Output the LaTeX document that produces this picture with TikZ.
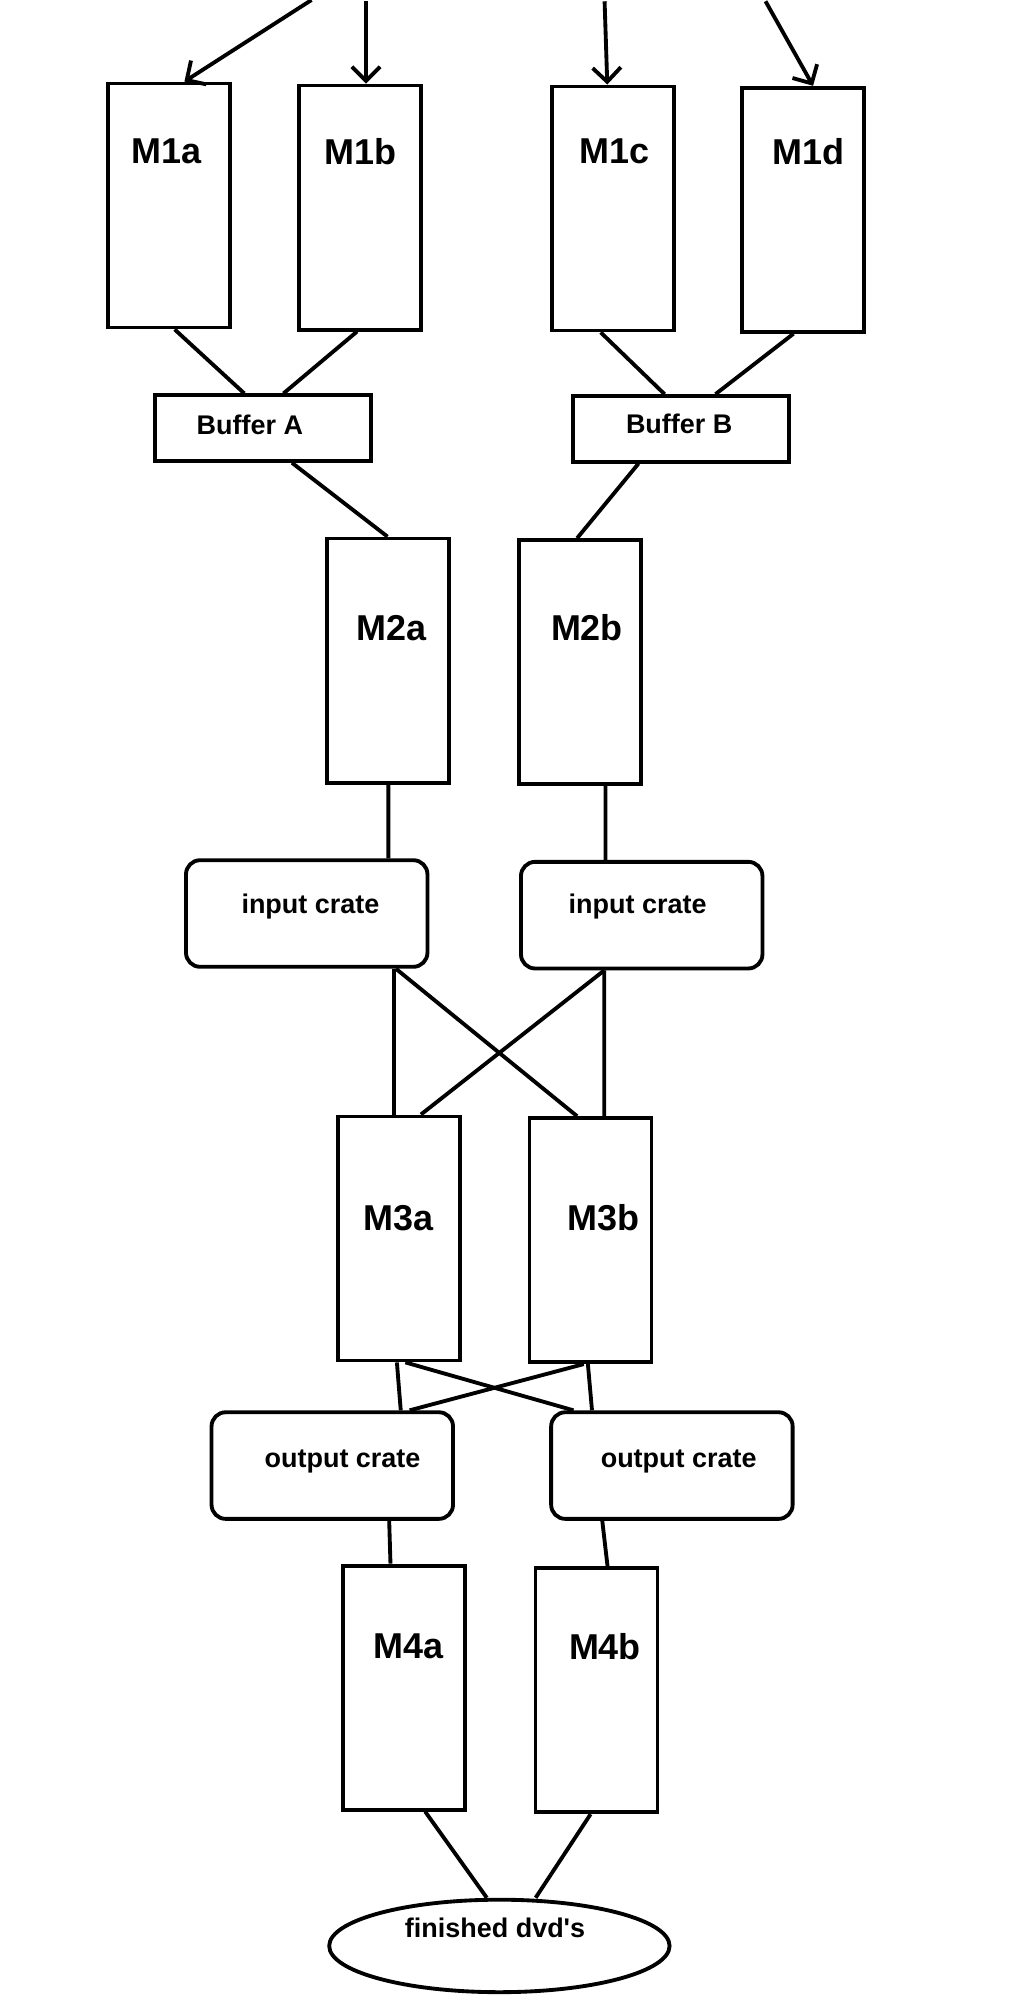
\documentclass[tikz,border=0pt]{standalone}
\usepackage{fontspec}
\setmainfont{Liberation Sans}
\usetikzlibrary{arrows.meta, shapes.geometric}

\begin{document}
\begin{tikzpicture}[x=1pt, y=-1pt, line width=3pt,
      >={Straight Barb[length=11pt, width=22pt]},
      machine/.style={draw, minimum width=95pt, minimum height=190pt, inner sep=0pt},
      buffer/.style={draw, minimum width=168pt, minimum height=51pt, inner sep=0pt},
      crate/.style={draw, rounded corners=11pt, minimum width=188pt, minimum height=83pt, inner sep=0pt},
      stock/.style={draw, ellipse, minimum width=265pt, minimum height=72pt, inner sep=0pt},
      mtext/.style={font=\fontsize{28}{28}\selectfont\bfseries, inner sep=0pt},
      ctext/.style={font=\fontsize{21}{21}\selectfont\bfseries, inner sep=0pt},
      arr/.style={->}]
    \useasboundingbox (0,0) rectangle (795,1568);
    % first stage
    \node[machine, label={[mtext, xshift=-1.8pt, yshift=42pt]center:M1a}] (m1a) at (131.7,160) {};
    \node[machine, label={[mtext, xshift=0.5pt, yshift=43.8pt]center:M1b}] (m1b) at (280,161.6) {};
    \node[machine, label={[mtext, xshift=1.6pt, yshift=44.3pt]center:M1c}] (m1c) at (477,162.3) {};
    \node[machine, label={[mtext, xshift=4.8pt, yshift=45.5pt]center:M1d}] (m1d) at (625,163.3) {};
    \coordinate (in1) at (242.5,0);
    \coordinate (in2) at (285,1);
    \coordinate (in3) at (470.7,1);
    \coordinate (in4) at (596,1);
    \draw[arr] (in1) -- ([xshift=11.9pt]m1a.north);
    \draw[arr] (in2) -- ([xshift=5pt]m1b.north);
    \draw[arr] (in3) -- ([xshift=-4.2pt]m1c.north);
    \draw[arr] (in4) -- ([xshift=8pt]m1d.north);
    % buffers
    \node[buffer, label={[ctext, xshift=-10.2pt, yshift=2.3pt]center:Buffer A}] (bufa) at (204.7,333.3) {};
    \node[buffer, label={[ctext, xshift=-1.6pt, yshift=4.2pt]center:Buffer B}] (bufb) at (530.4,333.9) {};
    \draw ([xshift=4.3pt]m1a.south) -- ([xshift=-14.5pt]bufa.north);
    \draw ([xshift=-2pt]m1b.south) -- ([xshift=16pt]bufa.north);
    \draw ([xshift=-9.3pt]m1c.south) -- ([xshift=-13pt]bufb.north);
    \draw ([xshift=-7.2pt]m1d.south) -- ([xshift=26.6pt]bufb.north);
    % second stage
    \node[machine, label={[mtext, xshift=2.5pt, yshift=25.3pt]center:M2a}] (m2a) at (302,514.3) {};
    \node[machine, label={[mtext, xshift=5.5pt, yshift=26.7pt]center:M2b}] (m2b) at (451.5,515.5) {};
    \draw ([xshift=22.6pt]bufa.south) -- ([xshift=-0.3pt]m2a.north);
    \draw ([xshift=-33.3pt]bufb.south) -- ([xshift=-2.2pt]m2b.north);
    \node[crate, label={[ctext, xshift=2.9pt, yshift=5.6pt]center:input crate}] (ic1) at (238.8,711.2) {};
    \node[crate, label={[ctext, xshift=-3.2pt, yshift=6.9pt]center:input crate}] (ic2) at (499.6,712.5) {};
    \draw ([xshift=0.4pt]m2a.south) -- ([xshift=63.6pt]ic1.north);
    \draw ([xshift=19.9pt]m2b.south) -- ([xshift=-28.2pt]ic2.north);
    % third stage
    \node[machine, label={[mtext, xshift=-0.4pt, yshift=16.2pt]center:M3a}] (m3a) at (310.5,964.2) {};
    \node[machine, label={[mtext, xshift=9.9pt, yshift=17.7pt]center:M3b}] (m3b) at (459.7,965.5) {};
    \draw ([xshift=67.8pt]ic1.south) -- ([xshift=-3.9pt]m3a.north);
    \draw ([xshift=69.4pt]ic1.south) -- ([xshift=-10.4pt]m3b.north);
    \draw ([xshift=-29.2pt]ic2.south) -- ([xshift=17.2pt]m3a.north);
    \draw ([xshift=-29.2pt]ic2.south) -- ([xshift=10.7pt]m3b.north);
    \node[crate, label={[ctext, xshift=8pt, yshift=3.1pt]center:output crate}] (oc1) at (258.7,1141) {};
    \node[crate, label={[ctext, xshift=5.3pt, yshift=3.1pt]center:output crate}] (oc2) at (523.1,1141) {};
    \draw ([xshift=-1.5pt]m3a.south) -- ([xshift=53.3pt]oc1.north);
    \draw ([xshift=5.1pt]m3a.south) -- ([xshift=-76.6pt]oc2.north);
    \draw ([xshift=-5.2pt]m3b.south) -- ([xshift=60.2pt]oc1.north);
    \draw ([xshift=-2pt]m3b.south) -- ([xshift=-62.2pt]oc2.north);
    % last stage
    \node[machine, label={[mtext, xshift=3.3pt, yshift=32.1pt]center:M4a}] (m4a) at (314.5,1313.9) {};
    \node[machine, label={[mtext, xshift=6.6pt, yshift=34.3pt]center:M4b}] (m4b) at (464.4,1315.9) {};
    \draw ([xshift=44.3pt]oc1.south) -- ([xshift=-10.5pt]m4a.north);
    \draw ([xshift=-54.2pt]oc2.south) -- ([xshift=8.6pt]m4b.north);
    \node[stock, label={[ctext, xshift=-3.4pt, yshift=14pt]center:finished dvd\textquotesingle s}] (dvd) at (388.8,1515) {};
    \draw ([xshift=16.5pt]m4a.south) -- ([xshift=-9.8pt]dvd.north);
    \draw ([xshift=-4.6pt]m4b.south) -- ([xshift=28.2pt]dvd.north);
\end{tikzpicture}
\end{document}
